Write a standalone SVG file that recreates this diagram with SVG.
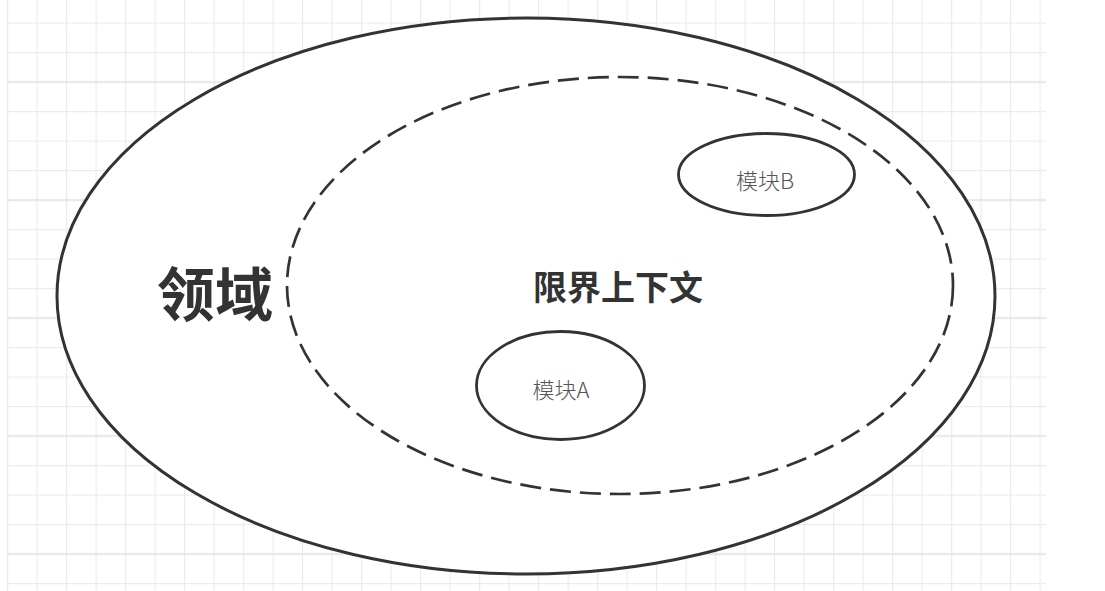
<svg xmlns="http://www.w3.org/2000/svg" width="1105" height="591" viewBox="0 0 1105 591">
  <defs>
    <pattern id="gridMinor" patternUnits="userSpaceOnUse" x="7" y="22.5" width="29.5" height="29.5">
      <path d="M0 0.5 H29.5 M0.5 0 V29.5" fill="none" stroke="#ececec" stroke-width="1.5"/>
    </pattern>
    <pattern id="gridMajor" patternUnits="userSpaceOnUse" x="7" y="22.5" width="118" height="118">
      <path d="M0 59.5 H118" fill="none" stroke="#e2e2e2" stroke-width="1.5"/>
    </pattern>
  </defs>
  <style>
    .shape { fill: #ffffff; stroke: #333333; }
    .outer { stroke-width: 3; }
    .ctx { fill: none; stroke: #333333; stroke-width: 2.7; stroke-dasharray: 21 9; }
    .mod { stroke-width: 2.8; }
    .big { font-family: "Noto Sans CJK SC", "Liberation Sans", sans-serif; font-weight: bold; fill: #333333; text-anchor: middle; }
    .small { font-family: "Noto Sans CJK SC", "Liberation Sans", sans-serif; font-weight: 300; fill: #555555; font-size: 22px; text-anchor: middle; }
  </style>
  <rect x="0" y="0" width="1105" height="591" fill="#ffffff"/>
  <g id="grid">
    <rect x="7" y="0" width="1039" height="591" fill="url(#gridMinor)"/>
    <rect x="7" y="0" width="1039" height="591" fill="url(#gridMajor)"/>
  </g>
  <g id="domain">
    <ellipse class="shape outer" cx="526" cy="296" rx="469" ry="278"/>
    <text class="big" x="215" y="316" font-size="58">领域</text>
  </g>
  <g id="bounded-context">
    <ellipse class="ctx" cx="620" cy="285.5" rx="333" ry="208.5"/>
    <text class="big" x="618" y="300" font-size="34">限界上下文</text>
  </g>
  <g id="module-b">
    <ellipse class="shape mod" cx="766.5" cy="174.5" rx="88" ry="41"/>
    <text class="small" x="765" y="189">模块B</text>
  </g>
  <g id="module-a">
    <ellipse class="shape mod" cx="560.5" cy="385.5" rx="84" ry="54"/>
    <text class="small" x="561" y="398">模块A</text>
  </g>
  <g id="connectors"></g>
</svg>
